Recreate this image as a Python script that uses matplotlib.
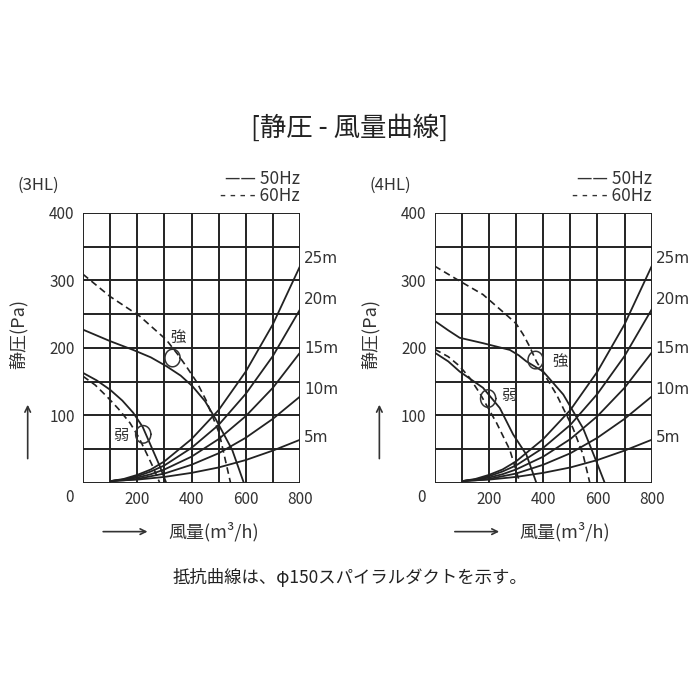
import matplotlib
matplotlib.use("Agg")
import matplotlib.pyplot as plt
import numpy as np

plt.rcParams['font.family'] = ['Noto Sans CJK JP', 'DejaVu Sans']

# resistance curves (shared), x = 風量
res_x = [105, 150, 200, 250, 300, 400, 500, 600, 700, 800]
res_curves = {
    "25m": [3, 6, 12, 20, 32, 65, 108, 165, 235, 321],
    "20m": [3, 5, 10, 17, 26, 52, 86, 132, 188, 257],
    "15m": [3, 5, 8, 13, 20, 39, 65, 99, 141, 193],
    "10m": [3, 4, 6, 10, 14, 27, 44, 67, 95, 128],
    "5m":  [3, 4, 5, 7, 9, 15, 23, 34, 48, 64],
}
res_label_y = {"25m": 333, "20m": 271, "15m": 199, "10m": 139, "5m": 68}

# 3HL
hl3_strong50_x = [0, 100, 185, 250, 307, 360, 404, 450, 490, 550, 593]
hl3_strong50_y = [227, 210, 197, 186, 173, 159, 143, 121, 94, 49, 0]
hl3_strong60_x = [0, 100, 209, 307, 350, 380, 420, 453, 502, 544]
hl3_strong60_y = [309, 276, 247, 212, 190, 173, 149, 123, 74, 0]
hl3_weak50_x = [0, 50, 100, 145, 185, 220, 246, 283, 307]
hl3_weak50_y = [163, 152, 138, 122, 104, 83, 59, 25, 0]
hl3_weak60_x = [0, 45, 88, 130, 173, 205, 234, 260, 283]
hl3_weak60_y = [158, 145, 128, 110, 89, 68, 44, 22, 0]

# 4HL
hl4_strong50_x = [0, 50, 92, 178, 277, 310, 338, 400, 474, 547, 596, 627]
hl4_strong50_y = [240, 226, 215, 207, 197, 189, 180, 165, 131, 81, 32, 0]
hl4_strong60_x = [0, 92, 178, 264, 300, 326, 350, 375, 449, 510, 547, 572]
hl4_strong60_y = [321, 299, 279, 249, 236, 220, 202, 180, 131, 81, 42, 0]
hl4_weak50_x = [0, 50, 92, 135, 178, 240, 289, 338, 375]
hl4_weak50_y = [193, 180, 165, 153, 141, 111, 72, 42, 0]
hl4_weak60_x = [0, 50, 92, 130, 166, 228, 277, 314]
hl4_weak60_y = [198, 187, 173, 155, 133, 89, 49, 0]

charts = [
    dict(name="(3HL)", left=0.1186,
         s50=(hl3_strong50_x, hl3_strong50_y), s60=(hl3_strong60_x, hl3_strong60_y),
         w50=(hl3_weak50_x, hl3_weak50_y), w60=(hl3_weak60_x, hl3_weak60_y),
         strong_txt=(350, 215), strong_loop=(330, 185),
         weak_txt=(138, 70), weak_loop=(222, 72)),
    dict(name="(4HL)", left=0.621,
         s50=(hl4_strong50_x, hl4_strong50_y), s60=(hl4_strong60_x, hl4_strong60_y),
         w50=(hl4_weak50_x, hl4_weak50_y), w60=(hl4_weak60_x, hl4_weak60_y),
         strong_txt=(460, 180), strong_loop=(372, 182),
         weak_txt=(272, 130), weak_loop=(197, 125)),
]

fig = plt.figure(figsize=(7, 7), dpi=100)
fig.text(0.5, 0.817, "[静圧 - 風量曲線]", ha="center", va="center", fontsize=19, color="#222")
fig.text(0.5, 0.175, "抵抗曲線は、φ150スパイラルダクトを示す。", ha="center", va="center",
         fontsize=12.5, color="#222")

t = np.linspace(0, 2 * np.pi, 60)
for c in charts:
    ax = fig.add_axes([c["left"], 0.31, 0.31, 0.386])
    ax.set_xlim(0, 800); ax.set_ylim(0, 400)
    for gx in range(0, 801, 100):
        ax.axvline(gx, color="#222", lw=1.4)
    for gy in range(0, 401, 50):
        ax.axhline(gy, color="#222", lw=1.4)
    for k, ys in res_curves.items():
        ax.plot(res_x, ys, color="#222", lw=1.3)
        ax.text(815, res_label_y[k], k, fontsize=11, color="#333", va="center",
                clip_on=False, family=["DejaVu Sans"])
    ax.plot(*c["s50"], color="#222", lw=1.3)
    ax.plot(*c["s60"], color="#222", lw=1.2, ls=(0, (4, 2.5)))
    ax.plot(*c["w50"], color="#222", lw=1.3)
    ax.plot(*c["w60"], color="#222", lw=1.2, ls=(0, (4, 2.5)))
    for lx, ly in (c["strong_loop"], c["weak_loop"]):
        ax.plot(lx + 28 * np.cos(t), ly + 13 * np.sin(t), color="#333", lw=1.1)
    ax.text(*c["strong_txt"], "強", fontsize=11, ha="center", va="center", color="#333")
    ax.text(*c["weak_txt"], "弱", fontsize=11, ha="center", va="center", color="#333")
    ax.set_xticks([200, 400, 600, 800])
    ax.set_yticks([100, 200, 300, 400])
    ax.tick_params(length=0, labelsize=11, labelcolor="#333", pad=6)
    for s in ax.spines.values():
        s.set_visible(False)
    ax.text(-50, -22, "0", fontsize=11, color="#333", ha="center", va="center", clip_on=False)
    ax.text(-240, 440, c["name"], fontsize=12, color="#333", va="center", clip_on=False)
    ax.text(800, 450, "—— 50Hz", fontsize=12.5, color="#333", ha="right", va="center", clip_on=False)
    ax.text(800, 425, "- - - - 60Hz", fontsize=12.5, color="#333", ha="right", va="center", clip_on=False)
    ax.set_ylabel("静圧(Pa)", fontsize=13, color="#333", labelpad=6)
    ax.yaxis.set_label_coords(-0.255, 0.55)
    ax.annotate("", xy=(-0.255, 0.3), xytext=(-0.255, 0.08), xycoords="axes fraction",
                arrowprops=dict(arrowstyle="->", color="#333", lw=1.2))
    ax.annotate("", xy=(0.31, -0.18), xytext=(0.08, -0.18), xycoords="axes fraction",
                arrowprops=dict(arrowstyle="->", color="#333", lw=1.2))
    ax.text(0.6, -0.18, "風量(m³/h)", transform=ax.transAxes, fontsize=13, color="#333",
            ha="center", va="center")

fig.savefig("out.png", dpi=100)
